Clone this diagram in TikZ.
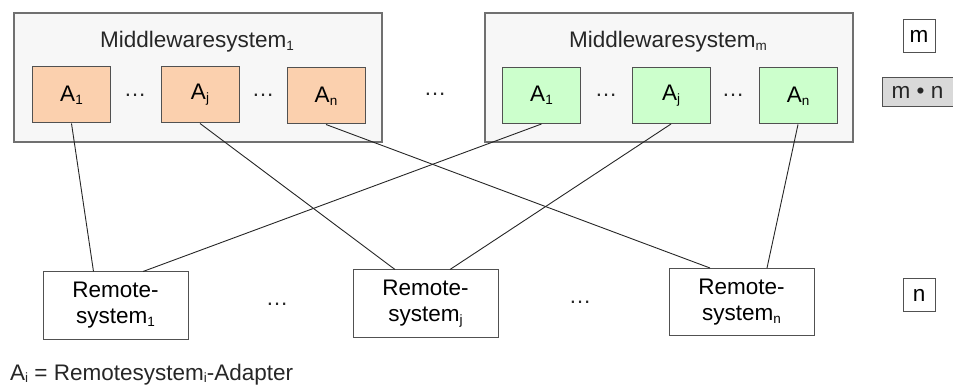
\documentclass[tikz,border=0pt]{standalone}
\usepackage{fontspec}
\setmainfont{Liberation Sans}
\definecolor{mwfill}{HTML}{F7F7F7}
\definecolor{mwline}{HTML}{707070}
\definecolor{peach}{HTML}{FBD0AE}
\definecolor{mint}{HTML}{CCFFCC}
\definecolor{legendgray}{HTML}{D9D9D9}
\definecolor{ink}{HTML}{262626}
% small lowered index, as used for A_1, system_n, ...
\newcommand{\sub}[1]{\raisebox{-0.25ex}{\fontsize{13.5}{14}\selectfont #1}}
\tikzset{
  mwbox/.style={draw=mwline, line width=1.3pt, fill=mwfill, minimum width=368pt, minimum height=129pt, inner sep=0pt},
  adapter/.style={draw=ink!80, line width=1pt, minimum width=78pt, minimum height=56pt, inner sep=0pt},
  remotebox/.style={draw=ink!80, line width=1pt, fill=white, minimum width=145pt, minimum height=67pt, inner sep=0pt, align=center},
  legendbox/.style={draw=ink!80, line width=1pt, minimum width=32pt, minimum height=33pt, inner sep=0pt},
  link/.style={draw=ink, line width=0.9pt},
  txt/.style={text=ink, inner sep=0pt}
}
\begin{document}
\begin{tikzpicture}[x=1pt, y=-1pt, font=\fontsize{22.5}{26}\selectfont]
\useasboundingbox (0,0) rectangle (953,387);

% middleware systems
\node[mwbox] (mw1) at (198,77.5) {};
\node[mwbox] (mwm) at (669,77.5) {};
\node[txt] (mw1title) at (197,42) {Middlewaresystem\sub{1}};
\node[txt] (mwmtitle) at (668,42) {Middlewaresystem\sub{m}};

% adapters of the first middleware system
\node[adapter, fill=peach] (a11) at (71.5,95) {A\sub{1}};
\node[adapter, fill=peach] (a1j) at (200,95) {A\sub{j}};
\node[adapter, fill=peach] (a1n) at (326,96) {A\sub{n}};
\node[txt] (d11) at (135,95) {…};
\node[txt] (d12) at (263,95) {…};

% adapters of the m-th middleware system
\node[adapter, fill=mint] (am1) at (541.5,95.5) {A\sub{1}};
\node[adapter, fill=mint] (amj) at (671,95.5) {A\sub{j}};
\node[adapter, fill=mint] (amn) at (798,96) {A\sub{n}};
\node[txt] (dm1) at (606,95) {…};
\node[txt] (dm2) at (733,95) {…};

\node[txt] (dmid) at (435,94) {…};

% remote systems
\node[remotebox] (r1) at (115.5,305.5) {Remote-\\system\sub{1}};
\node[remotebox] (rj) at (425.5,303.5) {Remote-\\system\sub{j}};
\node[remotebox] (rn) at (741.5,302) {Remote-\\system\sub{n}};
\node[txt] (dr1) at (277,304) {…};
\node[txt] (dr2) at (580,302) {…};

% connections adapter -> remote system
\draw[link] (a11.south) -- ([xshift=-22pt]r1.north);
\draw[link] (am1.south) -- ([xshift=27.5pt]r1.north);
\draw[link] (a1j.south) -- ([xshift=-30.5pt]rj.north);
\draw[link] (amj.south) -- ([xshift=24.5pt]rj.north);
\draw[link] (a1n.south) -- ([xshift=-31.5pt]rn.north);
\draw[link] (amn.south) -- ([xshift=25.5pt]rn.north);

% legend on the right
\node[legendbox] (lm) at (919,36.5) {m};
\node[draw=ink!80, line width=1pt, fill=legendgray, minimum width=76pt, minimum height=29pt, inner sep=0pt, anchor=west] (lmn) at (882,92) {};
\node[txt] (lmntext) at (917.5,92) {m • n};
\node[legendbox] (ln) at (919,295.5) {n};

% footnote
\node[txt, anchor=base west] (note) at (10,380) {A\sub{i} = Remotesystem\sub{i}-Adapter};
\end{tikzpicture}
\end{document}
